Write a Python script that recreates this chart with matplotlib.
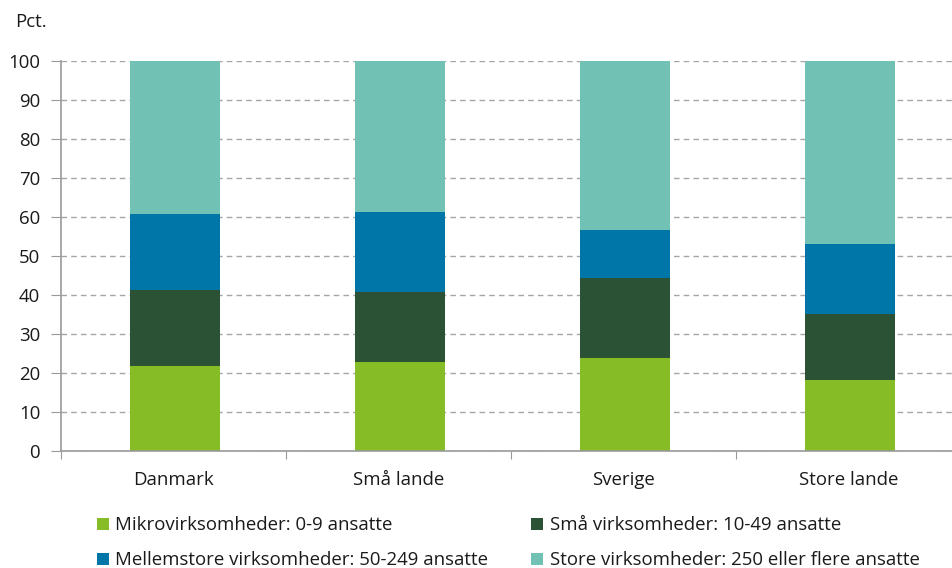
#!/usr/bin/env python
"""
Stacked bars: share of firms by size class, Danmark vs. comparison groups.
"""
import numpy as np
import matplotlib.pyplot as plt
from matplotlib.patches import Patch

plt.rcParams['font.family'] = ['Open Sans', 'DejaVu Sans']

# Data
countries = ['Danmark', 'Små lande', 'Sverige', 'Store lande']
mikro = [21.8, 23.0, 23.9, 18.2]
smaa = [19.6, 17.9, 20.5, 17.0]
mellem = [19.5, 20.3, 12.2, 18.0]
store = [39.1, 38.8, 43.4, 46.8]

labels = ['Mikrovirksomheder: 0-9 ansatte',
          'Små virksomheder: 10-49 ansatte',
          'Mellemstore virksomheder: 50-249 ansatte',
          'Store virksomheder: 250 eller flere ansatte']
colors = ['#86bc25', '#2b5234', '#0076a8', '#71c2b4']
FS = 13.4

fig = plt.figure(figsize=(9.53, 5.68), dpi=100)
ax = fig.add_axes([61 / 953, 116.7 / 568, 1 - 61 / 953, 390.3 / 568])

x = np.arange(len(countries))
bottom = np.zeros(len(countries))
for vals, col in zip([mikro, smaa, mellem, store], colors):
    ax.bar(x + 0.005, vals, width=0.4, bottom=bottom, color=col, linewidth=0, zorder=3)
    bottom += np.array(vals)

ax.set_xlim(-0.5, 3.5 - 8 / 225)
ax.set_ylim(0, 100)
ax.set_yticks(range(0, 101, 10))
ax.yaxis.grid(True, linestyle=(0, (4, 3)), color='#a6a6a6', linewidth=1, zorder=0)

# boundary ticks on major, labels on minor
ax.set_xticks([-0.5, 0.5, 1.5, 2.5])
ax.set_xticklabels([])
ax.set_xticks(x, minor=True)
ax.set_xticklabels(countries, minor=True)
ax.tick_params(axis='x', which='major', direction='out', length=6, color='#999999')
ax.tick_params(axis='x', which='minor', length=0, pad=14, labelsize=FS, labelcolor='#1a1a1a')
ax.tick_params(axis='y', direction='out', length=7, color='#999999', pad=8,
               labelsize=FS, labelcolor='#1a1a1a')

for s in ['top', 'right']:
    ax.spines[s].set_visible(False)
for s in ['left', 'bottom']:
    ax.spines[s].set_color('#999999')
    ax.spines[s].set_linewidth(1.2)
    ax.spines[s].set_zorder(4)

fig.text(15 / 953, 1 - 22 / 568, 'Pct.', fontsize=FS, color='#1a1a1a', va='center')

order = [0, 2, 1, 3]
handles = [Patch(facecolor=colors[i], edgecolor='none') for i in order]
fig.legend(handles, [labels[i] for i in order], ncol=2, frameon=False,
           loc='lower left', bbox_to_anchor=(80 / 953, -18 / 568),
           fontsize=FS, handlelength=0.65, handleheight=0.65, handletextpad=0.35,
           columnspacing=2.3, labelspacing=0.9, labelcolor='#1a1a1a')

fig.savefig('out.png', dpi=100)
